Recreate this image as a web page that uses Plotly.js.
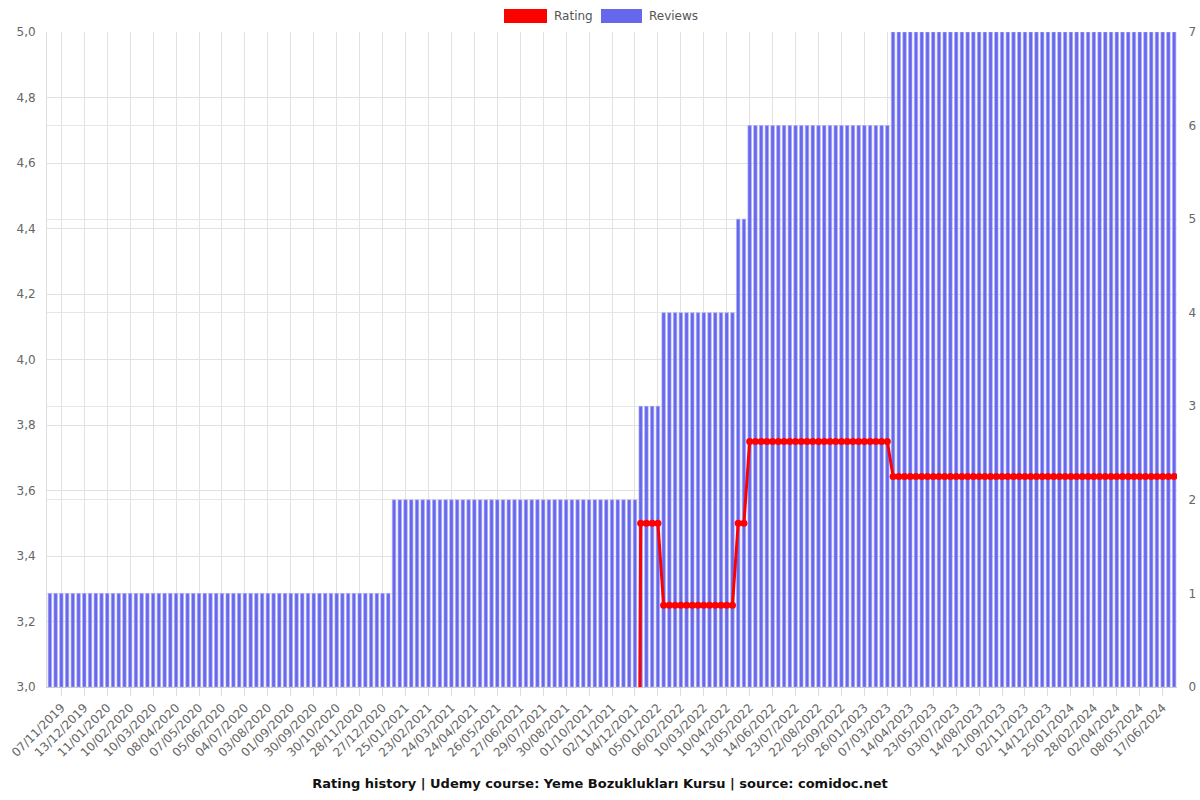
<!DOCTYPE html>
<html>
<head>
<meta charset="utf-8">
<script src="https://cdn.plot.ly/plotly-3.0.1.min.js"></script>
<style>html,body{margin:0;padding:0;background:#fff;}#chart{width:1200px;height:800px;}</style>
</head>
<body>
<div id="chart"></div>
<script>
const tickLabels = [
  "07/11/2019","13/12/2019","11/01/2020","10/02/2020","10/03/2020","08/04/2020","07/05/2020",
  "05/06/2020","04/07/2020","03/08/2020","01/09/2020","30/09/2020","30/10/2020","28/11/2020",
  "27/12/2020","25/01/2021","23/02/2021","24/03/2021","24/04/2021","26/05/2021","27/06/2021",
  "29/07/2021","30/08/2021","01/10/2021","02/11/2021","04/12/2021","05/01/2022","06/02/2022",
  "10/03/2022","10/04/2022","13/05/2022","14/06/2022","23/07/2022","22/08/2022","25/09/2022",
  "26/01/2023","07/03/2023","14/04/2023","23/05/2023","03/07/2023","14/08/2023","21/09/2023",
  "02/11/2023","14/12/2023","25/01/2024","28/02/2024","02/04/2024","08/05/2024","17/06/2024"
];

const reviews = [
  1,1,1,1,1,1,1,1,1,1,
  1,1,1,1,1,1,1,1,1,1,
  1,1,1,1,1,1,1,1,1,1,
  1,1,1,1,1,1,1,1,1,1,
  1,1,1,1,1,1,1,1,1,1,
  1,1,1,1,1,1,1,1,1,1,
  2,2,2,2,2,2,2,2,2,2,
  2,2,2,2,2,2,2,2,2,2,
  2,2,2,2,2,2,2,2,2,2,
  2,2,2,2,2,2,2,2,2,2,
  2,2,2,
  3,3,3,3,
  4,4,4,4,4,4,4,4,4,4,4,4,4,
  5,5,
  6,6,6,6,6,6,6,6,6,6,
  6,6,6,6,6,6,6,6,6,6,
  6,6,6,6,6,
  7,7,7,7,7,7,7,7,7,7,
  7,7,7,7,7,7,7,7,7,7,
  7,7,7,7,7,7,7,7,7,7,
  7,7,7,7,7,7,7,7,7,7,
  7,7,7,7,7,7,7,7,7,7
];

const ratings = [
  0,0,0,0,0,0,0,0,0,0,
  0,0,0,0,0,0,0,0,0,0,
  0,0,0,0,0,0,0,0,0,0,
  0,0,0,0,0,0,0,0,0,0,
  0,0,0,0,0,0,0,0,0,0,
  0,0,0,0,0,0,0,0,0,0,
  0,0,0,0,0,0,0,0,0,0,
  0,0,0,0,0,0,0,0,0,0,
  0,0,0,0,0,0,0,0,0,0,
  0,0,0,0,0,0,0,0,0,0,
  0,0,0,
  3.5,3.5,3.5,3.5,
  3.25,3.25,3.25,3.25,3.25,3.25,3.25,3.25,3.25,3.25,3.25,3.25,3.25,
  3.5,3.5,
  3.75,3.75,3.75,3.75,3.75,3.75,3.75,3.75,3.75,3.75,
  3.75,3.75,3.75,3.75,3.75,3.75,3.75,3.75,3.75,3.75,
  3.75,3.75,3.75,3.75,3.75,
  3.643,3.643,3.643,3.643,3.643,3.643,3.643,3.643,3.643,3.643,
  3.643,3.643,3.643,3.643,3.643,3.643,3.643,3.643,3.643,3.643,
  3.643,3.643,3.643,3.643,3.643,3.643,3.643,3.643,3.643,3.643,
  3.643,3.643,3.643,3.643,3.643,3.643,3.643,3.643,3.643,3.643,
  3.643,3.643,3.643,3.643,3.643,3.643,3.643,3.643,3.643,3.643
];

const seriesNames = ["Rating", "Reviews"];
const seriesColors = ["#ff0000", "#6767ec"];

const idx = reviews.map((_, i) => i);
const tickVals = tickLabels.map((_, k) => 2 + 4 * k);

const FONT = "DejaVu Sans, Verdana, sans-serif";

// layout geometry (pixels)
const W = 1200, H = 800;
const M = {l: 47, r: 23, t: 32, b: 113};
const PW = W - M.l - M.r, PH = H - M.t - M.b;
const px = x => (x - M.l) / PW;
const py = y => (H - M.b - y) / PH;

const traces = [
  {
    name: seriesNames[0],
    type: "scatter",
    mode: "lines+markers",
    x: idx,
    y: ratings,
    yaxis: "y2",
    line: {color: seriesColors[0], width: 3},
    marker: {color: seriesColors[0], size: 7},
    cliponaxis: true,
    showlegend: false,
    hoverinfo: "skip"
  },
  {
    name: seriesNames[1],
    type: "bar",
    x: idx,
    y: reviews,
    yaxis: "y",
    width: 0.6,
    marker: {color: "rgba(96,96,236,0.95)", line: {color: "rgba(170,170,250,0.8)", width: 0.8}},
    showlegend: false,
    hoverinfo: "skip"
  }
];

// custom box legend like the original
const legendBoxes = [{x0: 504, x1: 547}, {x0: 601, x1: 642}];
const shapes = legendBoxes.map((b, i) => ({
  type: "rect", xref: "paper", yref: "paper",
  x0: px(b.x0), x1: px(b.x1), y0: py(23), y1: py(9),
  fillcolor: seriesColors[i], line: {width: 0}
}));
const annotations = legendBoxes.map((b, i) => ({
  xref: "paper", yref: "paper",
  x: px(b.x1 + 5), y: py(16),
  xanchor: "left", yanchor: "middle",
  text: seriesNames[i], showarrow: false,
  font: {family: FONT, size: 12, color: "#555555"}
}));

const layout = {
  width: W,
  height: H,
  paper_bgcolor: "#ffffff",
  plot_bgcolor: "#ffffff",
  font: {family: FONT, size: 12, color: "#666666"},
  separators: ",.",
  margin: {l: M.l, r: M.r, t: M.t, b: M.b, pad: 0},
  showlegend: false,
  shapes: shapes,
  annotations: annotations,
  title: {
    text: "<b>Rating history | Udemy course: Yeme Bozuklukları Kursu | source: comidoc.net</b>",
    x: 0.5, xanchor: "center",
    y: 0.021, yref: "container", yanchor: "middle",
    font: {family: FONT, size: 13, color: "#111111"}
  },
  bargap: 0.4,
  xaxis: {
    type: "linear",
    range: [-0.5, reviews.length - 0.5],
    tickmode: "array",
    tickvals: tickVals,
    ticktext: tickLabels,
    tickangle: -45,
    ticks: "outside",
    ticklen: 8,
    tickcolor: "#dddddd",
    showgrid: true,
    gridcolor: "#e2e2e2",
    gridwidth: 1,
    showline: true,
    linecolor: "#cccccc",
    zeroline: false,
    tickfont: {family: FONT, size: 12, color: "#666666"},
    fixedrange: true
  },
  yaxis: {
    side: "right",
    range: [0, 7],
    dtick: 1,
    tick0: 0,
    showgrid: true,
    gridcolor: "#e6e6e6",
    zeroline: false,
    showline: false,
    ticks: "outside",
    ticklen: 8,
    tickcolor: "#ffffff",
    tickfont: {family: FONT, size: 12, color: "#666666"},
    fixedrange: true
  },
  yaxis2: {
    overlaying: "y",
    side: "left",
    range: [3, 5],
    dtick: 0.2,
    tick0: 3,
    tickformat: ".1f",
    showgrid: true,
    gridcolor: "#e2e2e2",
    zeroline: false,
    showline: true,
    linecolor: "#dddddd",
    ticks: "outside",
    ticklen: 8,
    tickcolor: "#ffffff",
    tickfont: {family: FONT, size: 12, color: "#666666"},
    fixedrange: true
  }
};

Plotly.newPlot("chart", traces, layout, {displayModeBar: false, staticPlot: true});
</script>
</body>
</html>
